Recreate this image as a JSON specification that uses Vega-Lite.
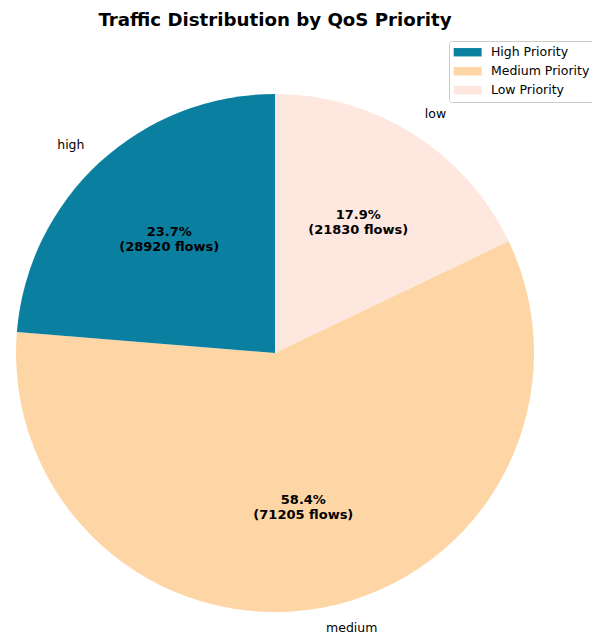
{
  "$schema": "https://vega.github.io/schema/vega-lite/v6.json",
  "width": 530,
  "height": 566,
  "autosize": {"type": "none"},
  "padding": {"left": 10, "top": 70, "right": 52, "bottom": 0},
  "background": "white",
  "title": {"text": "Traffic Distribution by QoS Priority", "font": "DejaVu Sans", "fontSize": 18.2, "fontWeight": "bold", "color": "black", "anchor": "middle", "offset": 10, "dx": 0},
  "config": {"view": {"stroke": null}},
  "data": {"values": [
    {"priority": "low", "legend": "Low Priority", "flows": 21830},
    {"priority": "medium", "legend": "Medium Priority", "flows": 71205},
    {"priority": "high", "legend": "High Priority", "flows": 28920}
  ]},
  "transform": [
    {"window": [{"op": "row_number", "as": "idx"}]},
    {"joinaggregate": [{"op": "sum", "field": "flows", "as": "total"}]},
    {"calculate": "format(datum.flows / datum.total * 100, '.1f') + '%\\n(' + datum.flows + ' flows)'", "as": "pctLabel"}
  ],
  "encoding": {
    "theta": {"field": "flows", "type": "quantitative", "stack": true},
    "order": {"field": "idx", "type": "quantitative"},
    "detail": {"field": "legend", "type": "nominal"}
  },
  "layer": [
    {
      "mark": {"type": "arc", "outerRadius": 259},
      "encoding": {
        "color": {
          "field": "legend", "type": "nominal",
          "scale": {"domain": ["High Priority", "Medium Priority", "Low Priority"], "range": ["#0b7fa0", "#fed6a5", "#fde7df"]},
          "legend": {
            "orient": "none", "legendX": 439, "legendY": -29, "title": null,
            "symbolType": "M-2.5,-0.75H2.5V0.75H-2.5Z", "symbolSize": 125, "symbolStrokeWidth": 0, "symbolOpacity": 1,
            "symbolOffset": 7.4,
            "labelFont": "DejaVu Sans", "labelFontSize": 12.5, "labelColor": "black",
            "strokeColor": "#cccccc", "fillColor": "white", "padding": 5, "cornerRadius": 3,
            "rowPadding": 6, "labelOffset": 17
          }
        }
      }
    },
    {
      "mark": {"type": "text", "radius": 156, "dy": -6, "font": "DejaVu Sans", "fontWeight": "bold", "fontSize": 13, "lineBreak": "\n", "color": "black"},
      "encoding": {"text": {"field": "pctLabel", "type": "nominal"}}
    },
    {
      "mark": {"type": "text", "radius": 281, "dy": -1, "font": "DejaVu Sans", "fontSize": 12.5, "color": "black", "align": {"expr": "datum.priority == 'high' ? 'right' : 'left'"}},
      "encoding": {"text": {"field": "priority", "type": "nominal"}}
    }
  ]
}
